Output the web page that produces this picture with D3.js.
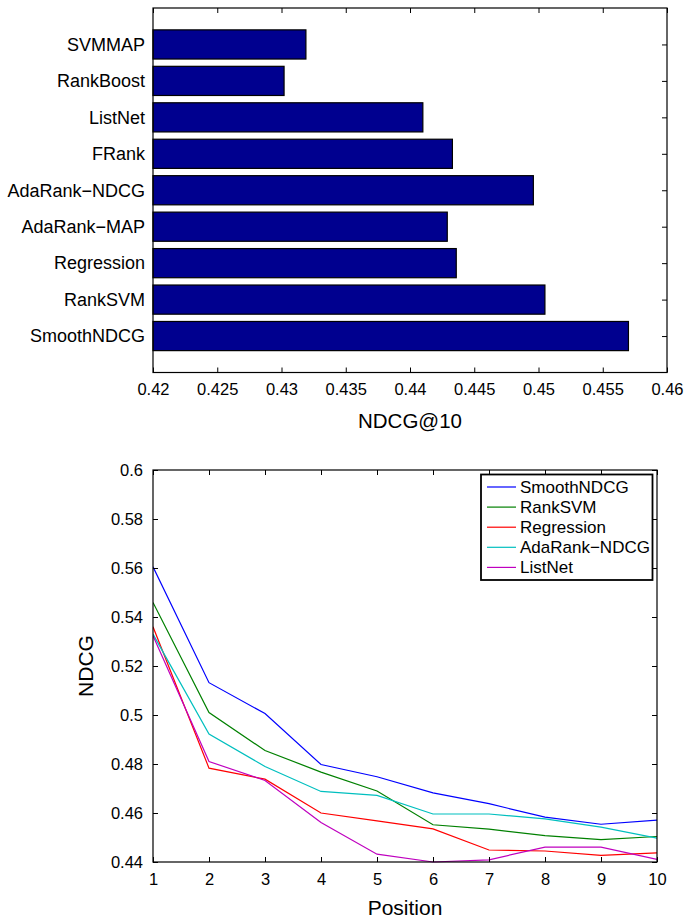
<!DOCTYPE html>
<html><head><meta charset="utf-8">
<script src="https://cdn.jsdelivr.net/npm/d3@7"></script>
<style>
body{margin:0;background:#fff}
text{font-family:"Liberation Sans",Arial,Helvetica,sans-serif;fill:#000}
</style>
</head><body>
<svg id="c" width="687" height="920"></svg>
<script>
// ---- Data: top bar chart (NDCG@10) ----
const methods = ["SmoothNDCG","RankSVM","Regression","AdaRank\u2212MAP","AdaRank\u2212NDCG","FRank","ListNet","RankBoost","SVMMAP"];
const ndcg10  = [0.4570, 0.4505, 0.4436, 0.4429, 0.4496, 0.4433, 0.4410, 0.4302, 0.4319];
const barTicks = [0.42, 0.425, 0.43, 0.435, 0.44, 0.445, 0.45, 0.455, 0.46];

// ---- Data: bottom line chart (NDCG@n) ----
const positions = [1,2,3,4,5,6,7,8,9,10];
const seriesNames = ["SmoothNDCG","RankSVM","Regression","AdaRank\u2212NDCG","ListNet"];
const smoothNDCG  = [0.5605,0.5132,0.5006,0.4798,0.4748,0.4682,0.4638,0.4583,0.4554,0.4571];
const rankSVM     = [0.5459,0.5010,0.4855,0.4767,0.4690,0.4552,0.4534,0.4508,0.4491,0.4504];
const regression  = [0.5360,0.4783,0.4738,0.4600,0.4568,0.4535,0.4449,0.4445,0.4427,0.4437];
const adaRankNDCG = [0.5330,0.4922,0.4790,0.4688,0.4672,0.4596,0.4596,0.4576,0.4542,0.4497];
const listNet     = [0.5323,0.4810,0.4733,0.4561,0.4432,0.4400,0.4409,0.4461,0.4461,0.4411];
const lineTicksY = [0.44,0.46,0.48,0.5,0.52,0.54,0.56,0.58,0.6];
const seriesColors = ["#0000ff","#008000","#ff0000","#00bfbf","#bf00bf"];

const svg = d3.select("#c");
const tickFont = "16.5px";

// ================= TOP CHART =================
const t = {l:153, r:667, t:8, b:372.5};
const xb = d3.scaleLinear().domain([0.42,0.46]).range([t.l,t.r]);
const yb = d3.scaleLinear().domain([0,10]).range([t.b,t.t]);
const gTop = svg.append("g");

// bars
gTop.selectAll("rect.bar").data(methods).join("rect")
  .attr("class","bar")
  .attr("x", xb(0.42))
  .attr("y", (d,i)=>yb(i+1+0.4))
  .attr("width", (d,i)=>xb(ndcg10[i])-xb(0.42))
  .attr("height", yb(0)-yb(0.8))
  .attr("fill","#00008f")
  .attr("stroke","#000").attr("stroke-width",1.2);

// axes
function styleAxis(g){ g.select(".domain").remove(); g.selectAll("line").attr("stroke","#000"); g.selectAll("text").style("font-size",tickFont); }
gTop.append("g").attr("transform",`translate(0,${t.b})`)
  .call(d3.axisBottom(xb).tickValues(barTicks).tickFormat(d=>d3.format("")(+d.toFixed(3))).tickSizeInner(-5).tickSizeOuter(0).tickPadding(11))
  .call(styleAxis);
gTop.append("g").attr("transform",`translate(0,${t.t})`)
  .call(d3.axisTop(xb).tickValues(barTicks).tickFormat("").tickSizeInner(-5).tickSizeOuter(0))
  .call(styleAxis);
gTop.append("g").attr("transform",`translate(${t.r},0)`)
  .call(d3.axisRight(yb).tickValues(d3.range(1,10)).tickFormat("").tickSizeInner(-5).tickSizeOuter(0))
  .call(styleAxis);
gTop.append("g").attr("transform",`translate(${t.l},0)`)
  .call(d3.axisLeft(yb).tickValues(d3.range(1,10)).tickFormat((d)=>methods[d-1]).tickSizeInner(0).tickSizeOuter(0).tickPadding(8))
  .call(styleAxis)
  .selectAll("text").style("font-size","18px");
gTop.append("rect").attr("x",t.l).attr("y",t.t).attr("width",t.r-t.l).attr("height",t.b-t.t)
  .attr("fill","none").attr("stroke","#000").attr("stroke-width",1.2);
gTop.append("text").attr("x",(t.l+t.r)/2).attr("y",428).attr("text-anchor","middle")
  .style("font-size","20.5px").text("NDCG@10");

// ================= BOTTOM CHART =================
const b = {l:153, r:657, t:470, b:862};
const xl = d3.scaleLinear().domain([1,10]).range([b.l,b.r]);
const yl = d3.scaleLinear().domain([0.44,0.6]).range([b.b,b.t]);
const gBot = svg.append("g");
const allSeries = [smoothNDCG, rankSVM, regression, adaRankNDCG, listNet];

gBot.append("defs").append("clipPath").attr("id","clipL").append("rect")
  .attr("x",b.l).attr("y",b.t-1).attr("width",b.r-b.l).attr("height",b.b-b.t+2);

const line = d3.line().x((d,i)=>xl(positions[i])).y(d=>yl(d));
gBot.append("g").attr("clip-path","url(#clipL)")
  .selectAll("path.series").data(allSeries).join("path")
  .attr("class","series")
  .attr("d", d=>line(d))
  .attr("fill","none")
  .attr("stroke",(d,i)=>seriesColors[i])
  .attr("stroke-width",1.2);

gBot.append("g").attr("transform",`translate(0,${b.b})`)
  .call(d3.axisBottom(xl).tickValues(positions).tickSizeInner(-5).tickSizeOuter(0).tickPadding(11))
  .call(styleAxis);
gBot.append("g").attr("transform",`translate(0,${b.t})`)
  .call(d3.axisTop(xl).tickValues(positions).tickFormat("").tickSizeInner(-5).tickSizeOuter(0))
  .call(styleAxis);
gBot.append("g").attr("transform",`translate(${b.l},0)`)
  .call(d3.axisLeft(yl).tickValues(lineTicksY).tickFormat(d=>String(+d.toFixed(2))).tickSizeInner(-5).tickSizeOuter(0).tickPadding(10))
  .call(styleAxis);
gBot.append("g").attr("transform",`translate(${b.r},0)`)
  .call(d3.axisRight(yl).tickValues(lineTicksY).tickFormat("").tickSizeInner(-5).tickSizeOuter(0))
  .call(styleAxis);
gBot.append("rect").attr("x",b.l).attr("y",b.t).attr("width",b.r-b.l).attr("height",b.b-b.t)
  .attr("fill","none").attr("stroke","#000").attr("stroke-width",1.2);

gBot.append("text").attr("x",(b.l+b.r)/2).attr("y",915).attr("text-anchor","middle")
  .style("font-size","21px").text("Position");
gBot.append("text").attr("transform",`translate(93,${(b.t+b.b)/2}) rotate(-90)`).attr("text-anchor","middle")
  .style("font-size","21px").text("NDCG");

// legend
const lg = gBot.append("g");
lg.append("rect").attr("x",481).attr("y",474.5).attr("width",171.5).attr("height",105.5)
  .attr("fill","#fff").attr("stroke","#000").attr("stroke-width",1.8);
const rows = lg.selectAll("g.row").data(seriesNames).join("g").attr("class","row")
  .attr("transform",(d,i)=>`translate(0,${487+i*20.1})`);
rows.append("line").attr("x1",487).attr("x2",516).attr("y1",0).attr("y2",0)
  .attr("stroke",(d,i)=>seriesColors[i]).attr("stroke-width",1.2);
rows.append("text").attr("x",520).attr("y",0).attr("dy","0.35em")
  .style("font-size","17px").text(d=>d);
</script>
</body></html>
